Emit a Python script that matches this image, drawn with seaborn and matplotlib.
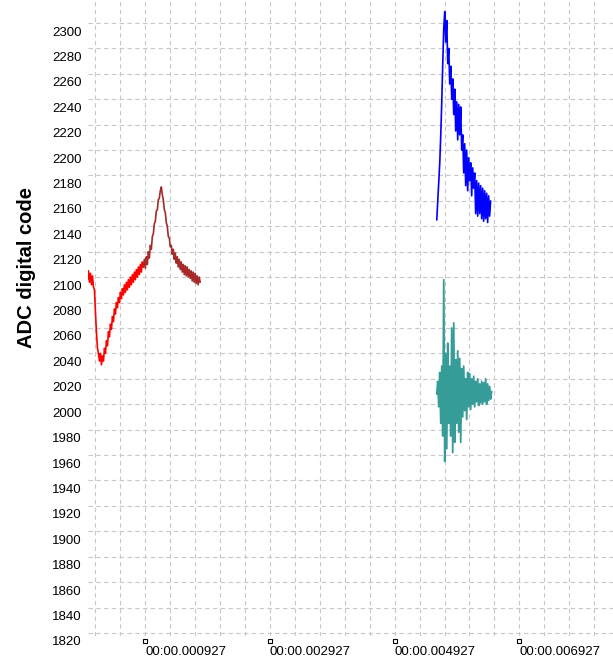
import numpy as np
import pandas as pd
import matplotlib
matplotlib.use("Agg")
import matplotlib.pyplot as plt
import matplotlib.transforms as mtransforms
from matplotlib.ticker import MultipleLocator, FixedLocator, FixedFormatter
import seaborn as sns

# sample period (us) and start time of each captured trace
dt_us = 16.0
red_t0 = 0.0
brown_t0 = 896.0
blue_t0 = 5603.0
teal_t0 = 5603.0

red_vals = [2098, 2105, 2096, 2103, 2094, 2101, 2092, 2090, 2072, 2056,
            2044, 2040, 2034, 2040, 2031, 2038, 2034, 2044, 2040, 2050,
            2046, 2057, 2053, 2063, 2059, 2069, 2065, 2075, 2071, 2080,
            2076, 2084, 2080, 2088, 2083, 2091, 2086, 2094, 2088, 2096,
            2090, 2098, 2092, 2100, 2094, 2102, 2096, 2104, 2098, 2106,
            2100, 2108, 2102, 2110, 2104, 2112, 2108]

brown_vals = [2108, 2114, 2107, 2116, 2110, 2120, 2115, 2125, 2122, 2132,
              2134, 2142, 2144, 2152, 2153, 2161, 2162, 2168, 2171, 2165,
              2161, 2153, 2151, 2143, 2140, 2132, 2131, 2124, 2125, 2118,
              2122, 2114, 2119, 2111, 2116, 2108, 2114, 2106, 2112, 2104,
              2110, 2102, 2109, 2101, 2108, 2100, 2106, 2099, 2105, 2097,
              2104, 2096, 2103, 2095, 2101, 2094, 2100, 2096]

blue_vals = [2145, 2160, 2175, 2190, 2212, 2238, 2268, 2296, 2309, 2285,
             2302, 2268, 2280, 2252, 2266, 2240, 2256, 2228, 2248, 2215,
             2238, 2208, 2236, 2212, 2234, 2200, 2212, 2182, 2205, 2172,
             2200, 2168, 2194, 2176, 2190, 2164, 2186, 2170, 2182, 2150,
             2176, 2148, 2174, 2150, 2172, 2146, 2170, 2144, 2168, 2146,
             2166, 2143, 2164, 2148, 2160]

teal_vals = [2008, 2018, 1998, 2025, 1985, 2030, 1975, 2098, 1955, 2040,
             1965, 2048, 1985, 2030, 1975, 2060, 1962, 2064, 1970, 2035,
             1985, 2042, 1978, 2036, 1970, 2028, 1990, 2030, 1995, 2020,
             1988, 2025, 1998, 2024, 1996, 2020, 2000, 2022, 1998, 2018,
             2002, 2020, 1999, 2016, 2001, 2018, 2000, 2017, 2002, 2020,
             2000, 2016, 2003, 2014, 2004, 2010]

x_label_ticks = [927, 2927, 4927, 6927]
x_tick_labels = ["00:00.000927", "00:00.002927", "00:00.004927", "00:00.006927"]
y_ticks = list(range(1820, 2301, 20))


def trace(t0, vals):
    return pd.DataFrame({"t": t0 + dt_us * np.arange(len(vals)), "code": vals})


sns.set_style("white")
plt.rcParams["font.family"] = ["Liberation Sans", "DejaVu Sans"]

fig = plt.figure(figsize=(6.13, 6.61), dpi=100)
ax = fig.add_axes([87.5 / 613, 25 / 661, 525.5 / 613, 636 / 661])

sns.lineplot(data=trace(red_t0, red_vals), x="t", y="code", color="#ff0000", lw=1.2, ax=ax, sort=False)
sns.lineplot(data=trace(brown_t0, brown_vals), x="t", y="code", color="#a52a2a", lw=1.2, ax=ax, sort=False)
sns.lineplot(data=trace(blue_t0, blue_vals), x="t", y="code", color="#0000ff", lw=1.2, ax=ax, sort=False)
sns.lineplot(data=trace(teal_t0, teal_vals), x="t", y="code", color="#369c98", lw=1.3, ax=ax, sort=False)

ax.set_xlim(0, 8430)
ax.set_ylim(1817.6, 2318.1)

# grid every 400 us / 20 codes
ax.xaxis.set_major_locator(FixedLocator(x_label_ticks))
ax.xaxis.set_major_formatter(FixedFormatter(x_tick_labels))
ax.xaxis.set_minor_locator(MultipleLocator(400, offset=127))
ax.set_yticks(y_ticks)
ax.grid(which="both", color="#c8c8c8", linestyle=(0, (4, 3)), linewidth=0.8)
ax.set_axisbelow(True)
for s in ax.spines.values():
    s.set_visible(False)

ax.tick_params(axis="x", which="both", length=0, pad=7, labelsize=9.5, labelcolor="black")
ax.tick_params(axis="y", length=0, pad=4, labelsize=9.5, labelcolor="black")
for lbl in ax.get_xticklabels():
    lbl.set_horizontalalignment("left")
ylab_off = mtransforms.ScaledTranslation(0, -8 / 100, fig.dpi_scale_trans)
for lbl in ax.get_yticklabels():
    lbl.set_transform(lbl.get_transform() + ylab_off)

# small square tick markers under the labelled x positions
sq = mtransforms.blended_transform_factory(ax.transData, ax.transAxes) + \
    mtransforms.ScaledTranslation(0, -5 / 100, fig.dpi_scale_trans)
ax.plot(x_label_ticks, [0] * len(x_label_ticks), ls="none", marker="s", ms=3,
        mfc="white", mec="black", mew=0.8, transform=sq, clip_on=False)

ax.set_xlabel("")
ax.set_ylabel("")
fig.text(27 / 613, 1 - 268 / 661, "ADC digital code", rotation=90, ha="center", va="center",
         fontsize=14.5, fontweight="bold", color="black")

fig.savefig("out.png", dpi=100)
